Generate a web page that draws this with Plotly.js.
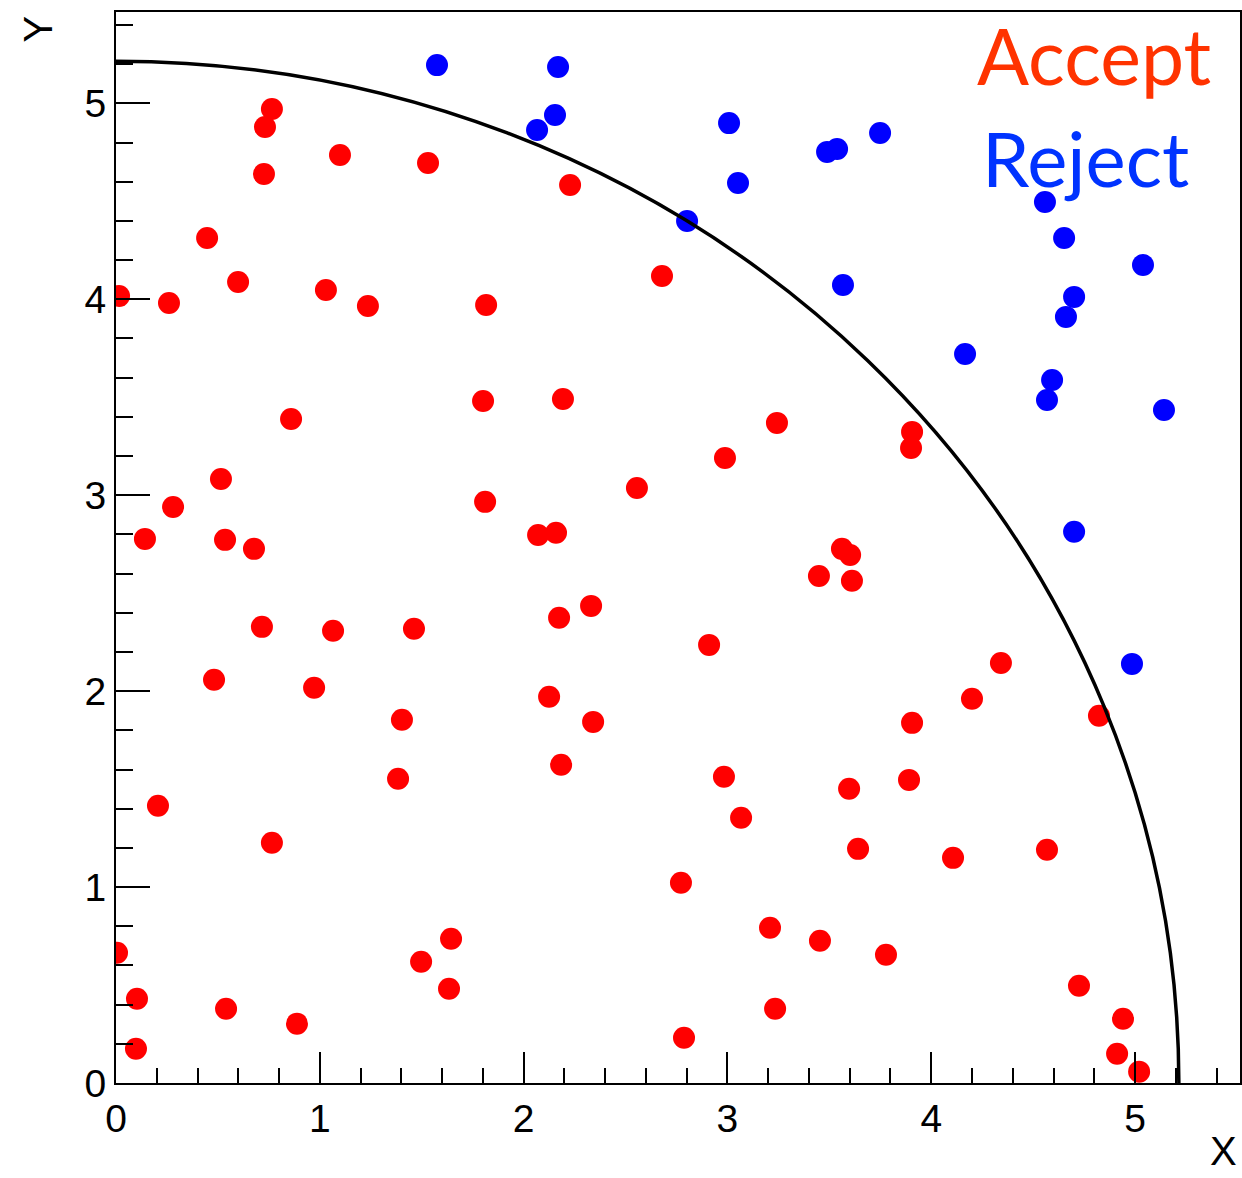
<!DOCTYPE html>
<html>
<head>
<meta charset="utf-8">
<script src="https://cdn.plot.ly/plotly-3.0.1.min.js"></script>
<style>
  html, body { margin: 0; padding: 0; background: #fff; }
  #plot { width: 1242px; height: 1178px; }
</style>
</head>
<body>
<div id="plot"></div>
<script>
// accepted points (inside the circle)
var acceptX = [0.015, 0.005, 0.103, 0.098, 0.142, 0.206, 0.260, 0.280, 0.447, 0.515,
  0.481, 0.535, 0.540, 0.599, 0.677, 0.716, 0.731, 0.765, 0.726, 0.765,
  0.859, 0.888, 0.972, 1.030, 1.065, 1.099, 1.236, 1.403, 1.384, 1.462,
  1.497, 1.531, 1.644, 1.634, 1.801, 1.816, 1.811, 2.071, 2.159, 2.125,
  2.174, 2.193, 2.184, 2.228, 2.331, 2.341, 2.556, 2.679, 2.772, 2.787,
  2.910, 2.988, 2.983, 3.067, 3.209, 3.243, 3.234, 3.449, 3.454, 3.562,
  3.602, 3.611, 3.597, 3.641, 3.778, 3.906, 3.901, 3.906, 3.891, 4.107,
  4.200, 4.342, 4.568, 4.725, 4.823, 4.941, 4.912, 5.020];
var acceptY = [4.017, 0.665, 0.430, 0.175, 2.777, 1.415, 3.981, 2.940, 4.313, 3.083,
  2.058, 2.772, 0.379, 4.088, 2.726, 2.328, 4.879, 4.971, 4.639, 1.226,
  3.389, 0.303, 2.017, 4.047, 2.308, 4.736, 3.966, 1.854, 1.553, 2.318,
  0.619, 4.695, 0.736, 0.481, 3.481, 3.971, 2.966, 2.797, 2.808, 1.971,
  2.374, 3.491, 1.624, 4.583, 2.435, 1.843, 3.037, 4.119, 1.022, 0.231,
  2.236, 3.190, 1.563, 1.354, 0.792, 3.369, 0.379, 2.588, 0.726, 2.726,
  2.695, 2.563, 1.502, 1.195, 0.655, 3.323, 3.241, 1.838, 1.547, 1.149,
  1.961, 2.144, 1.190, 0.496, 1.874, 0.328, 0.149, 0.058];

// rejected points (outside the circle)
var rejectX = [1.575, 2.169, 2.154, 2.066, 3.008, 3.052, 2.802, 3.489, 3.538, 3.749,
  3.567, 4.166, 4.558, 4.652, 4.701, 4.661, 5.039, 4.593, 4.568, 5.142,
  4.701, 4.985];
var rejectY = [5.195, 5.185, 4.940, 4.864, 4.899, 4.593, 4.399, 4.752, 4.767, 4.848,
  4.073, 3.721, 4.496, 4.313, 4.012, 3.910, 4.175, 3.588, 3.486, 3.435,
  2.813, 2.139];

var radius = 5.215;
var xRange = [0, 5.515];
var yRange = [0, 5.466];

var accept = {
  x: acceptX, y: acceptY, type: "scatter", mode: "markers",
  marker: {color: "#ff0000", size: 22}, hoverinfo: "skip"
};
var reject = {
  x: rejectX, y: rejectY, type: "scatter", mode: "markers",
  marker: {color: "#0000ff", size: 22}, hoverinfo: "skip"
};

var tickFont = {family: "Liberation Sans, Arial, sans-serif", size: 39, color: "#000"};
var titleFont = {family: "Liberation Sans, Arial, sans-serif", size: 40, color: "#000"};
var labelFont = "Lato, Noto Sans, sans-serif";

function axis(range, len, minorLen) {
  return {
    range: range, autorange: false, fixedrange: true,
    showgrid: false, zeroline: false,
    showline: true, linecolor: "#000", linewidth: 2, mirror: true,
    ticks: "inside", ticklen: len, tickwidth: 2, tickcolor: "#000",
    dtick: 1, tick0: 0, tickfont: tickFont,
    minor: {dtick: 0.2, ticks: "inside", ticklen: minorLen, tickwidth: 2, tickcolor: "#000", showgrid: false}
  };
}

var xaxis = axis(xRange, 31, 15);
xaxis.ticklabelstandoff = 0;
var yaxis = axis(yRange, 34, 17);
yaxis.ticklabelstandoff = 0;

var layout = {
  width: 1242, height: 1178,
  margin: {l: 116, r: 2, t: 12, b: 95},
  paper_bgcolor: "#fff", plot_bgcolor: "#fff",
  showlegend: false,
  xaxis: xaxis,
  yaxis: yaxis,
  shapes: [{
    type: "circle", xref: "x", yref: "y", layer: "above",
    x0: -radius, y0: -radius, x1: radius, y1: radius,
    line: {color: "#000", width: 3.5}
  }],
  annotations: [
    {text: "Accept", xref: "paper", yref: "paper", x: 0.7643, y: 0.9603,
     xanchor: "left", yanchor: "middle", showarrow: false,
     font: {family: labelFont, size: 77, color: "#ff3300"}},
    {text: "Reject", xref: "paper", yref: "paper", x: 0.7686, y: 0.8642,
     xanchor: "left", yanchor: "middle", showarrow: false,
     font: {family: labelFont, size: 76, color: "#0033ff"}},
    {text: "X", xref: "paper", yref: "paper", x: 0.9991, y: -0.0858,
     xanchor: "right", yanchor: "bottom", showarrow: false, font: titleFont},
    {text: "Y", xref: "paper", yref: "paper", x: -0.069, y: 0.984,
     xanchor: "center", yanchor: "middle", textangle: -90, showarrow: false, font: titleFont}
  ]
};

Plotly.newPlot("plot", [accept, reject], layout, {displayModeBar: false, staticPlot: true});
</script>
</body>
</html>
